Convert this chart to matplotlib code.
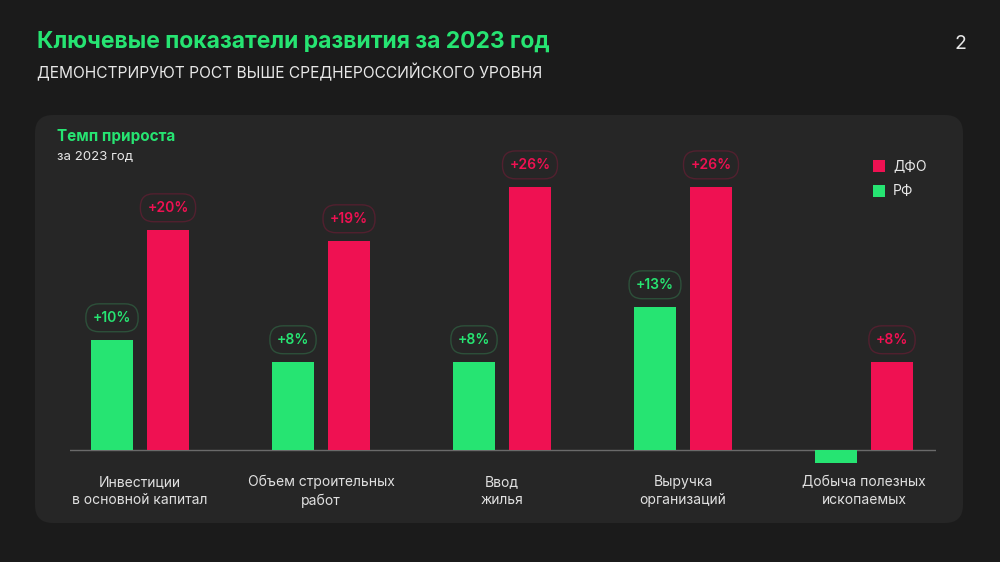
import numpy as np
import matplotlib.pyplot as plt
from matplotlib.patches import FancyBboxPatch, Rectangle

plt.rcParams['font.family'] = ['Inter', 'DejaVu Sans']

categories = ["Инвестиции\nв основной капитал", "Объем строительных\nработ", "Ввод\nжилья",
              "Выручка\nорганизаций", "Добыча полезных\nископаемых"]
rf_values = [10, 8, 8, 13, -1.2]
dfo_values = [20, 19, 23.9, 23.9, 8]
rf_labels = ["+10%", "+8%", "+8%", "+13%", None]
dfo_labels = ["+20%", "+19%", "+26%", "+26%", "+8%"]

GREEN = '#26e472'
RED = '#ef1152'
BG = '#1b1b1b'
PANEL = '#262626'

fig = plt.figure(figsize=(10, 5.62), dpi=100)
fig.patch.set_facecolor(BG)

# panel behind the chart
panel = FancyBboxPatch((35 / 1000, (562 - 523) / 562), 928 / 1000, 408 / 562,
                       boxstyle="round,pad=0,rounding_size=0.018",
                       transform=fig.transFigure, facecolor=PANEL, edgecolor='none',
                       mutation_aspect=1000 / 562, zorder=-1)
fig.patches.append(panel)

fig.text(0.037, 1 - 42 / 562, "Ключевые показатели развития за 2023 год", color=GREEN,
         fontsize=16.5, fontweight='bold', va='center')
fig.text(0.037, 1 - 72 / 562, "ДЕМОНСТРИРУЮТ РОСТ ВЫШЕ СРЕДНЕРОССИЙСКОГО УРОВНЯ", color='#e8e8e8',
         fontsize=11.2, va='center')
fig.text(0.96, 1 - 44 / 562, "2", color='#e8e8e8', fontsize=14, va='center', ha='center')
fig.text(0.057, 1 - 136 / 562, "Темп прироста", color=GREEN, fontsize=11,
         fontweight='bold', va='center')
fig.text(0.057, 1 - 157 / 562, "за 2023 год", color='#e8e8e8', fontsize=9.5, va='center')

# legend
for y_px, col, lab in [(166, RED, "ДФО"), (191, GREEN, "РФ")]:
    fig.patches.append(Rectangle((873 / 1000, 1 - (y_px + 6) / 562), 12 / 1000, 12 / 562,
                                 transform=fig.transFigure, facecolor=col, edgecolor='none'))
    fig.text(893 / 1000, 1 - y_px / 562, lab, color='#e8e8e8', fontsize=10, va='center')

ax = fig.add_axes([70 / 1000, (562 - 483) / 562, 866 / 1000, 363 / 562])
ax.set_facecolor('none')
ax.set_xlim(-70 / 181, -70 / 181 + 866 / 181)
ax.set_ylim(-3, 30)
for s in ax.spines.values():
    s.set_visible(False)
ax.set_xticks([])
ax.set_yticks([])

x = np.arange(len(categories))
w = 42 / 181
off = 28 / 181
ax.bar(x - off, rf_values, width=w, color=GREEN, zorder=2)
ax.bar(x + off, dfo_values, width=w, color=RED, zorder=2)
ax.axhline(0, color='#6a6a6a', lw=1, zorder=1)

for i in range(len(categories)):
    for xx, v, lab, col, edge in [(x[i] - off, rf_values[i], rf_labels[i], GREEN, '#2d503a'),
                                  (x[i] + off, dfo_values[i], dfo_labels[i], RED, '#52202f')]:
        if lab is None:
            continue
        ax.annotate(lab, (xx, v), xytext=(0, 16), textcoords='offset points',
                    ha='center', va='center', color=col, fontsize=10, fontweight='semibold',
                    bbox=dict(boxstyle='round,pad=0.5,rounding_size=0.95', facecolor='none',
                              edgecolor=edge, lw=1))
    ax.annotate(categories[i], (x[i], 0), xytext=(0, -18), textcoords='offset points',
                ha='center', va='top', multialignment='center', color='#e0e0e0',
                fontsize=10, linespacing=1.4)

fig.savefig('out.png', dpi=100, facecolor=BG)
